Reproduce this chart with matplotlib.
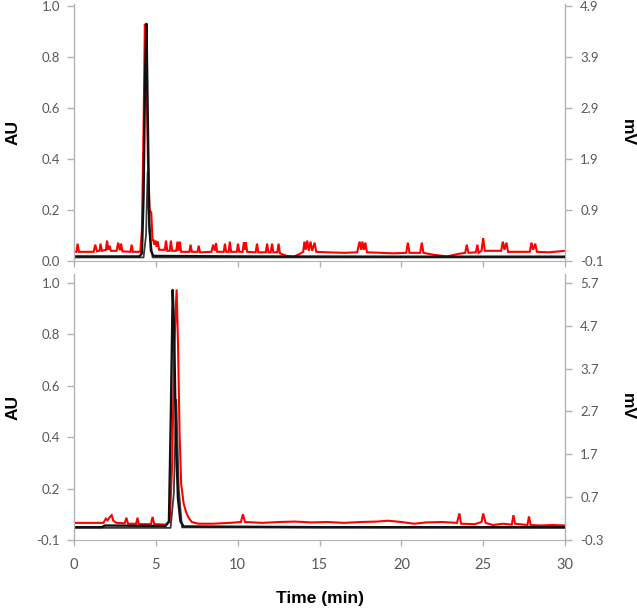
import matplotlib
matplotlib.use("Agg")
import matplotlib.pyplot as plt
import numpy as np

# ---------------- data ----------------
# Top panel: UV trace (AU, left axis) and a second UV trace, plus detector trace (mV, right axis)
top_black_t = [0, 2.0, 4.0, 4.15, 4.25, 4.35, 4.43, 4.5, 4.6, 4.7, 4.85, 10, 20, 30]
top_black_v = [0.018, 0.018, 0.018, 0.03, 0.25, 0.75, 0.93, 0.6, 0.15, 0.04, 0.02, 0.018, 0.017, 0.017]

top_gray_t = [0, 4.25, 4.4, 4.5, 4.6, 4.8, 30]
top_gray_v = [0.014, 0.014, 0.1, 0.35, 0.12, 0.014, 0.014]

top_red_t = [0.0, 0.15, 0.22, 0.3, 1.2, 1.3, 1.4, 1.55, 1.62, 1.7, 1.95, 2.02, 2.1, 2.18, 2.25,
             2.6, 2.7, 2.8, 2.88, 2.95, 3.45, 3.52, 3.6, 4.05, 4.15, 4.25, 4.33, 4.42, 4.52,
             4.62, 4.72, 4.8, 4.85, 4.9, 5.0, 5.05, 5.12, 5.2, 5.55, 5.62, 5.7, 5.85, 5.92,
             6.0, 6.25, 6.32, 6.4, 6.47, 6.55, 7.05, 7.12, 7.2, 7.55, 7.62, 7.7, 8.4, 8.5,
             8.6, 8.68, 8.75, 9.15, 9.22, 9.3, 9.45, 9.52, 9.6, 9.95, 10.02, 10.1, 10.3,
             10.38, 10.45, 10.5, 10.58, 11.1, 11.18, 11.26, 11.72, 11.8, 11.88, 12.02, 12.1,
             12.18, 12.42, 12.5, 12.58, 13.0, 13.4, 13.8, 14.0, 14.08, 14.16, 14.25, 14.35,
             14.45, 14.55, 14.7, 14.8, 15.5, 16.5, 17.3, 17.45, 17.55, 17.62, 17.72, 17.8,
             17.9, 18.8, 19.5, 20.3, 20.4, 20.5, 21.15, 21.25, 21.35, 22.0, 22.8, 23.5, 23.9,
             24.0, 24.1, 24.55, 24.65, 24.72, 24.9, 25.0, 25.1, 25.5, 26.1, 26.2, 26.3,
             26.42, 26.52, 27.1, 27.85, 27.95, 28.05, 28.18, 28.28, 29.0, 30.0]
top_red_v = [0.08, 0.08, 0.24, 0.08, 0.08, 0.22, 0.09, 0.1, 0.24, 0.1, 0.12, 0.3, 0.12, 0.2, 0.1,
             0.1, 0.26, 0.11, 0.24, 0.09, 0.08, 0.22, 0.08, 0.08, 0.5, 2.5, 4.55, 3.8, 1.8,
             0.9, 0.85, 0.3, 0.32, 0.22, 0.3, 0.18, 0.28, 0.12, 0.12, 0.3, 0.1, 0.1, 0.3,
             0.1, 0.1, 0.28, 0.1, 0.28, 0.08, 0.08, 0.22, 0.08, 0.08, 0.2, 0.07, 0.08, 0.22,
             0.1, 0.25, 0.08, 0.08, 0.24, 0.08, 0.08, 0.28, 0.08, 0.08, 0.24, 0.08, 0.08,
             0.27, 0.12, 0.27, 0.08, 0.07, 0.24, 0.07, 0.07, 0.24, 0.07, 0.07, 0.24,
             0.07, 0.07, 0.24, 0.05, 0.0, -0.02, 0.04, 0.08, 0.28, 0.12, 0.3, 0.1,
             0.28, 0.1, 0.26, 0.08, 0.07, 0.06, 0.07, 0.28, 0.12, 0.28, 0.12, 0.26,
             0.07, 0.06, 0.05, 0.06, 0.26, 0.06, 0.06, 0.26, 0.06, 0.02, -0.01, 0.04, 0.06,
             0.22, 0.06, 0.07, 0.22, 0.06, 0.1, 0.35, 0.1, 0.1, 0.1, 0.28, 0.12,
             0.26, 0.08, 0.08, 0.08, 0.26, 0.12, 0.24, 0.08, 0.07, 0.1]

# Bottom panel
bot_black_t = [0, 1.7, 1.9, 5.6, 5.8, 5.92, 6.03, 6.12, 6.22, 6.35, 6.5, 6.7, 15, 30]
bot_black_v = [-0.045, -0.045, -0.038, -0.04, -0.02, 0.45, 0.97, 0.8, 0.35, 0.08, -0.02, -0.042, -0.045, -0.045]

bot_gray_t = [0, 5.9, 6.1, 6.25, 6.4, 6.6, 30]
bot_gray_v = [-0.048, -0.048, 0.1, 0.5, 0.12, -0.046, -0.048]

bot_red_t = [0, 1.8, 1.95, 2.05, 2.2, 2.3, 2.4, 2.6, 3.1, 3.2, 3.3, 3.8, 3.88, 3.96, 4.7, 4.8,
             4.9, 5.6, 5.85, 6.0, 6.12, 6.27, 6.36, 6.45, 6.55, 6.7, 6.85, 7.0, 7.2, 7.6,
             8.5, 9.5, 10.2, 10.32, 10.45, 11.5, 12.5, 13.5, 14.5, 15.5, 16.5, 17.5, 18.5,
             19.2, 20.0, 20.8, 21.5, 22.5, 23.4, 23.55, 23.65, 24.5, 24.9, 25.0, 25.15,
             25.6, 26.2, 26.75, 26.85, 26.95, 27.7, 27.8, 27.9, 28.5, 29.2, 30]
bot_red_v = [0.1, 0.1, 0.2, 0.16, 0.24, 0.28, 0.15, 0.1, 0.09, 0.22, 0.08, 0.08, 0.22, 0.07, 0.07, 0.24,
             0.07, 0.06, 0.12, 1.5, 4.2, 5.55, 4.2, 2.2, 1.0, 0.55, 0.35, 0.22, 0.12, 0.08,
             0.08, 0.1, 0.12, 0.3, 0.12, 0.1, 0.12, 0.13, 0.11, 0.12, 0.1, 0.12, 0.13,
             0.15, 0.12, 0.08, 0.11, 0.12, 0.1, 0.32, 0.08, 0.07, 0.12, 0.32, 0.1,
             0.05, 0.08, 0.06, 0.28, 0.08, 0.05, 0.25, 0.05, 0.04, 0.05, 0.04]

x_ticks = [0, 5, 10, 15, 20, 25, 30]
top_left_labels = ["0.0", "0.2", "0.4", "0.6", "0.8", "1.0"]
top_right_labels = ["-0.1", "0.9", "1.9", "2.9", "3.9", "4.9"]
bot_left_labels = ["-0.1", "0.2", "0.4", "0.6", "0.8", "1.0"]
bot_right_labels = ["-0.3", "0.7", "1.7", "2.7", "3.7", "4.7", "5.7"]

# ---------------- style ----------------
W, H = 637, 612
fig = plt.figure(figsize=(W / 100, H / 100), dpi=100)

SPINE = "#b3b3b3"
TICKC = "#595959"
tick_font = dict(family=["Lato", "DejaVu Sans"], size=9.5)
lab_font = dict(family=["Liberation Sans", "DejaVu Sans"], weight="bold", size=12.5)

def frac(x0, y0, x1, y1):
    return [x0 / W, 1 - y1 / H, (x1 - x0) / W, (y1 - y0) / H]

def style(ax, side):
    for s in ["top", "left", "right", "bottom"]:
        ax.spines[s].set_visible(False)
    ax.spines[side].set_visible(True)
    ax.spines[side].set_color(SPINE)
    ax.spines[side].set_linewidth(1.0)

def setup(ax, ax2, left_labels, right_labels, lo_l, hi_l, lo_r, hi_r, extra_px, span_px,
          bl_t, bl_v, gr_t, gr_v, rd_t, rd_v, show_xlabels):
    # left axis
    style(ax, "left")
    ax.spines["bottom"].set_visible(True)
    ax.spines["bottom"].set_color(SPINE)
    ax.set_xlim(0, 30)
    ax.set_xticks(x_ticks)
    ax.tick_params(axis="x", direction="out", length=4, width=1, color=SPINE, pad=9,
                   labelcolor=TICKC, labelbottom=show_xlabels)
    for t in ax.get_xticklabels():
        t.set_fontfamily(tick_font["family"]); t.set_fontsize(10.5)
    lpos = np.linspace(lo_l, hi_l, len(left_labels))
    ax.set_ylim(lo_l, hi_l + (hi_l - lo_l) * extra_px / span_px)
    ax.set_yticks(lpos)
    ax.set_yticklabels(left_labels, **tick_font)
    ax.tick_params(axis="y", direction="out", length=5, width=1, color=SPINE, pad=5, labelcolor=TICKC)
    # right axis
    style(ax2, "right")
    rpos = np.linspace(lo_r, hi_r, len(right_labels))
    ax2.set_ylim(lo_r, hi_r + (hi_r - lo_r) * extra_px / span_px)
    ax2.set_yticks(rpos)
    ax2.set_yticklabels(right_labels, **tick_font)
    ax2.tick_params(axis="y", direction="out", length=5, width=1, color=SPINE, pad=6, labelcolor=TICKC)
    # traces
    ax2.plot(rd_t, rd_v, color="#ff0000", lw=1.5, solid_joinstyle="miter")
    ax.plot(gr_t, gr_v, color="#3a3a3a", lw=1.3)
    ax.plot(bl_t, bl_v, color="#111111", lw=1.7)
    ax.set_zorder(ax2.get_zorder() + 1)
    ax.patch.set_visible(False)
    ax.set_ylabel("AU", **lab_font, va="center", ha="center")
    ax2.set_ylabel("mV", rotation=270, **lab_font, va="center", ha="center")

# top panel: ticks from y=261 (low) to y=6 (high), spine top at y=4
ax1 = fig.add_axes(frac(74, 4, 565, 261))
ax1b = ax1.twinx()
setup(ax1, ax1b, top_left_labels, top_right_labels, 0.0, 1.0, -0.1, 4.9, 2, 255,
      top_black_t, top_black_v, top_gray_t, top_gray_v, top_red_t, top_red_v, False)

# bottom panel: ticks from y=540 to y=283, spine top at y=274
ax2 = fig.add_axes(frac(74, 274, 565, 540))
ax2b = ax2.twinx()
setup(ax2, ax2b, bot_left_labels, bot_right_labels, -0.1, 1.0, -0.3, 5.7, 9, 257,
      bot_black_t, bot_black_v, bot_gray_t, bot_gray_v, bot_red_t, bot_red_v, True)

for a in (ax1, ax2):
    a.yaxis.set_label_coords((13 - 74) / 491, 0.5)
for a in (ax1b, ax2b):
    a.yaxis.set_label_coords((627 - 74) / 491, 0.5)

fig.text(320 / W, 1 - 598 / H, "Time (min)", ha="center", va="center", **lab_font)

fig.savefig("out.png", dpi=100)
